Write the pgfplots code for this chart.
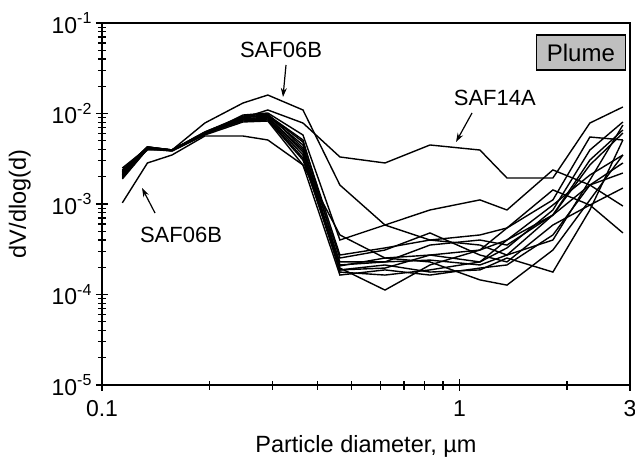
\documentclass[border=0pt]{standalone}
\usepackage{fontspec}
\setmainfont{Liberation Sans}
\usepackage{pgfplots}
\usepackage{pgfplotstable}
\usetikzlibrary{arrows.meta}
\pgfplotsset{compat=1.18}
\newcommand{\tpow}[1]{10\raisebox{0.42em}{\fontsize{16}{16}\selectfont #1}}
\pgfplotstableread{
x s1 s2 s3 s4 s5 s6 s7 s8 s9 s10 s11 s12 s13 s14
0.114 2.26e-3 2.50e-3 1.03e-3 2.26e-3 2.09e-3 1.94e-3 2.04e-3 2.38e-3 2.15e-3 1.89e-3 1.99e-3 2.20e-3 2.09e-3 2.32e-3
0.134 3.95e-3 4.16e-3 2.84e-3 4.27e-3 4.16e-3 4.05e-3 4.16e-3 4.27e-3 4.16e-3 4.05e-3 4.16e-3 4.27e-3 4.16e-3 4.27e-3
0.157 3.95e-3 3.95e-3 3.48e-3 3.95e-3 3.95e-3 3.95e-3 3.85e-3 3.95e-3 3.95e-3 3.85e-3 3.95e-3 3.95e-3 3.95e-3 3.95e-3
0.194 6.09e-3 7.85e-3 5.64e-3 6.09e-3 6.09e-3 5.94e-3 5.94e-3 6.25e-3 6.09e-3 5.79e-3 5.94e-3 6.09e-3 5.94e-3 6.25e-3
0.248 8.92e-3 1.306e-2 5.64e-3 8.92e-3 9.15e-3 8.69e-3 8.48e-3 9.38e-3 8.26e-3 8.06e-3 9.62e-3 8.69e-3 8.48e-3 9.15e-3
0.291 1.094e-2 1.60e-2 5.10e-3 9.62e-3 9.38e-3 9.15e-3 8.92e-3 9.87e-3 8.48e-3 8.26e-3 1.013e-2 9.15e-3 8.69e-3 9.62e-3
0.365 7.85e-3 1.094e-2 2.70e-3 5.10e-3 4.49e-3 3.95e-3 3.48e-3 4.16e-3 3.06e-3 2.70e-3 5.79e-3 3.75e-3 3.22e-3 4.84e-3
0.463 3.31e-3 1.62e-3 4.55e-4 2.12e-4 1.87e-4 1.77e-4 1.96e-4 2.53e-4 2.29e-4 1.64e-4 4.00e-4 2.07e-4 1.87e-4 2.73e-4
0.619 2.84e-3 5.86e-4 2.53e-4 2.29e-4 1.96e-4 1.64e-4 1.12e-4 3.10e-4 2.29e-4 1.87e-4 5.86e-4 2.53e-4 2.12e-4 3.27e-4
0.827 4.49e-3 4.00e-4 2.73e-4 2.40e-4 2.73e-4 1.87e-4 2.12e-4 4.79e-4 3.52e-4 1.64e-4 8.59e-4 2.29e-4 1.77e-4 4.00e-4
1.141 3.95e-3 4.55e-4 2.29e-4 2.12e-4 3.10e-4 2.29e-4 3.10e-4 2.73e-4 4.00e-4 1.96e-4 1.11e-3 1.45e-4 1.87e-4 3.52e-4
1.358 1.94e-3 5.43e-4 4.00e-4 2.73e-4 4.00e-4 3.27e-4 5.43e-4 2.29e-4 3.52e-4 2.12e-4 8.59e-4 1.27e-4 2.53e-4 2.73e-4
1.826 1.94e-3 1.11e-3 7.56e-4 7.56e-4 9.75e-4 8.59e-4 1.43e-3 5.86e-4 7.56e-4 4.55e-4 2.38e-3 3.10e-4 1.77e-4 4.00e-4
2.317 7.85e-3 5.50e-3 1.62e-3 3.06e-3 2.09e-3 3.95e-3 9.75e-4 9.75e-4 2.70e-3 1.62e-3 1.62e-3 1.11e-3 8.59e-4 1.84e-3
2.866 1.18e-2 5.10e-3 2.20e-3 6.58e-3 3.48e-3 8.06e-3 4.79e-4 1.50e-3 6.09e-3 2.84e-3 9.50e-4 3.48e-3 5.10e-3 7.46e-3
}\datatable
\begin{document}
\begin{tikzpicture}[font=\fontsize{22}{26}\selectfont]
\path[use as bounding box] (-102pt,-76pt) rectangle (533pt,385pt);
\begin{axis}[
  at={(0pt,0pt)}, anchor=south west,
  scale only axis, width=528pt, height=362pt,
  xmode=log, ymode=log,
  xmin=0.1, xmax=3, ymin=1e-5, ymax=1e-1,
  xtick={0.1,1,3}, xticklabels={0.1,1,3},
  xminorticks=false,
  extra x ticks={0.2,0.3,0.4,0.5,0.6,0.7,0.8,0.9,2},
  extra x tick labels={},
  extra x tick style={major tick length=9pt},
  ytick={1e-5,1e-4,1e-3,1e-2,1e-1},
  yticklabels={\tpow{-5},\tpow{-4},\tpow{-3},\tpow{-2},\tpow{-1}},
  ticklabel style={font=\fontsize{23}{26}\selectfont},
  tick pos=left,
  tick align=center,
  major tick length=12pt,
  minor tick length=8pt,
  every tick/.style={black, line width=1.2pt},
  axis line style={line width=1.6pt},
  xlabel={\fontsize{23.5}{27}\selectfont Particle diameter, µm},
  ylabel={\fontsize{23.5}{27}\selectfont dV/dlog(d)},
  xlabel style={yshift=-1pt},
  ylabel style={yshift=14pt},
  xticklabel style={yshift=-6pt},
  yticklabel style={xshift=-1pt},
  cycle list={{black}},
  every axis plot/.append style={line width=1.4pt},
  no markers,
  clip=true,
]
\addplot table[x=x,y=s1]{\datatable};
\addplot table[x=x,y=s2]{\datatable};
\addplot table[x=x,y=s3]{\datatable};
\addplot table[x=x,y=s4]{\datatable};
\addplot table[x=x,y=s5]{\datatable};
\addplot table[x=x,y=s6]{\datatable};
\addplot table[x=x,y=s7]{\datatable};
\addplot table[x=x,y=s8]{\datatable};
\addplot table[x=x,y=s9]{\datatable};
\addplot table[x=x,y=s10]{\datatable};
\addplot table[x=x,y=s11]{\datatable};
\addplot table[x=x,y=s12]{\datatable};
\addplot table[x=x,y=s13]{\datatable};
\addplot table[x=x,y=s14]{\datatable};
\node[draw=black, line width=1.2pt, fill=gray!50, minimum width=89pt, minimum height=35pt, inner sep=0pt, font=\fontsize{24}{26}\selectfont] at (rel axis cs:0.907,0.9185) {Plume};
\node at (rel axis cs:0.339,0.925) {SAF06B};
\draw[-{Stealth[length=9pt,width=6pt]}, line width=1.2pt] (rel axis cs:0.3485,0.884) -- (rel axis cs:0.3428,0.7956);
\node at (rel axis cs:0.744,0.7928) {SAF14A};
\draw[-{Stealth[length=9pt,width=6pt]}, line width=1.2pt] (rel axis cs:0.7008,0.7514) -- (rel axis cs:0.6705,0.6713);
\node at (rel axis cs:0.1496,0.4144) {SAF06B};
\draw[-{Stealth[length=9pt,width=6pt]}, line width=1.2pt] (rel axis cs:0.1004,0.4751) -- (rel axis cs:0.0758,0.5442);
\end{axis}
\end{tikzpicture}
\end{document}
